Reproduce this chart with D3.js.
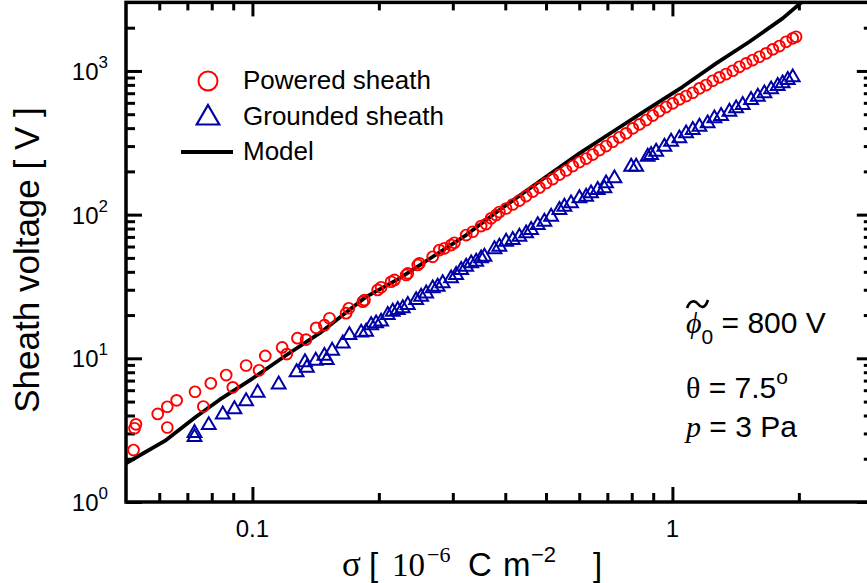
<!DOCTYPE html>
<html>
<head>
<meta charset="utf-8">
<script src="https://cdn.jsdelivr.net/npm/d3@7"></script>
<style>
  body { margin: 0; background: #fff; }
  svg { display: block; font-family: Arial, "Liberation Sans", sans-serif; }
</style>
</head>
<body>
<script>
// DATA ––––––––––––––––––––––––––––––––––––––––––––––––––––––––––––––––

  // powered sheath (red circles), sigma in 1e-6 C m^-2, voltage in V
  var poweredSigma = [0.0521, 0.0524, 0.0528, 0.0595, 0.0627, 0.0627, 0.0660, 0.0730, 0.0764, 0.0796,
    0.0866, 0.0898, 0.0966, 0.1037, 0.1073, 0.1177, 0.1207, 0.128, 0.1342, 0.1418,
    0.1484, 0.1526, 0.1671, 0.1696, 0.1831, 0.1848, 0.1987, 0.2025, 0.2139, 0.2179,
    0.2323, 0.2344, 0.2475, 0.2498, 0.2687, 0.2787, 0.2865, 0.2972, 0.3027, 0.3228,
    0.3346, 0.3504, 0.3601, 0.3701, 0.3804, 0.3873, 0.4018, 0.4167, 0.4322, 0.4484,
    0.465, 0.4824, 0.5003, 0.5188, 0.5382, 0.5582, 0.5789, 0.6006, 0.6231, 0.6459,
    0.6703, 0.6951, 0.7207, 0.7477, 0.7757, 0.8044, 0.8346, 0.8658, 0.8977, 0.9312,
    0.966, 1.0016, 1.039, 1.078, 1.118, 1.160, 1.203, 1.247, 1.294, 1.342,
    1.392, 1.444, 1.498, 1.553, 1.611, 1.672, 1.734, 1.798, 1.865, 1.934, 1.970];
  var poweredV = [2.30, 3.26, 3.47, 4.10, 3.30, 4.60, 5.10, 5.85, 4.62, 6.70,
    7.65, 6.28, 8.91, 8.25, 10.4, 11.9, 10.7, 13.8, 13.5, 16.3,
    17.0, 19.0, 20.6, 22.3, 24.8, 25.4, 29.9, 31.2, 34.1, 35.1,
    38.0, 39.0, 44.6, 45.8, 50.9, 56.7, 58.3, 61.4, 63.7, 72.1,
    76.0, 83.3, 86.0, 94.3, 99.4, 104.3, 110.3, 117.6, 125.3, 134.7,
    144.8, 154.4, 166.0, 176.9, 190.1, 202.8, 217.9, 232.3, 245.7, 262.0,
    281.6, 300.2, 321.6, 345.2, 368.0, 398.7, 425.1, 455.3, 489.3, 526.0,
    560.9, 595.1, 634.6, 669.0, 705.4, 756.8, 797.9, 854.7, 902.6, 951.5,
    1003, 1069, 1129, 1191, 1256, 1326, 1414, 1490, 1597, 1687, 1730];

  // grounded sheath (blue triangles)
  var groundedSigma = [0.0728, 0.0728, 0.0787, 0.0850, 0.0906, 0.0966, 0.1029, 0.1155, 0.1274, 0.1334,
    0.1348, 0.1415, 0.1484, 0.1503, 0.1548, 0.1641, 0.1702, 0.1815, 0.1865, 0.1917,
    0.197, 0.2025, 0.21, 0.2158, 0.2218, 0.228, 0.2344, 0.2454, 0.2522, 0.2593,
    0.2687, 0.2761, 0.2838, 0.2972, 0.3055, 0.3141, 0.3228, 0.3318, 0.341, 0.3504,
    0.3568, 0.377, 0.3873, 0.4018, 0.4167, 0.4322, 0.4484, 0.4609, 0.4779, 0.4956,
    0.5143, 0.5382, 0.5532, 0.5737, 0.6006, 0.6231, 0.6402, 0.664, 0.6887, 0.6951,
    0.7278, 0.7977, 0.8197, 0.8733, 0.8898, 0.9147, 0.9572, 0.9929, 1.039, 1.078,
    1.118, 1.160, 1.213, 1.259, 1.306, 1.367, 1.418, 1.470, 1.539, 1.597,
    1.656, 1.718, 1.781, 1.830, 1.882, 1.934];
  var groundedV = [3.02, 2.83, 3.43, 4.06, 4.42, 5.03, 5.76, 6.57, 8.00, 9.40,
    8.59, 9.61, 10.4, 9.73, 11.3, 12.7, 14.5, 15.1, 15.3, 17.0,
    17.5, 18.0, 20.0, 21.1, 21.7, 22.3, 23.5, 25.4, 26.8, 28.3,
    30.7, 31.5, 33.3, 36.0, 38.0, 41.2, 43.4, 45.8, 47.0, 49.6,
    51.0, 57.4, 59.8, 64.8, 66.6, 70.2, 74.1, 78.1, 84.6, 89.3,
    96.7, 107.6, 113.5, 119.8, 129.9, 133.2, 140.7, 148.3, 152.4, 165.1,
    178.9, 215.4, 215.4, 252.9, 259.9, 274.0, 296.9, 321.6, 339.6, 368.0,
    387.9, 408.9, 432.0, 467.9, 485.6, 520.2, 549.3, 579.0, 627.6, 661.5,
    698.5, 744.7, 785.1, 819.8, 864.4, 902.6];

  // model curve (black line)
  var modelSigma = [0.05, 0.0623, 0.0734, 0.0834, 0.1002, 0.1203, 0.1443, 0.1865, 0.2239, 0.2687,
    0.3228, 0.3873, 0.5003, 0.6006, 0.7207, 0.8658, 1.058, 1.271, 1.525, 1.830, 2.14];
  var modelV = [1.86, 2.70, 3.92, 5.13, 7.26, 10.5, 14.9, 26.8, 36.0, 50.9,
    72.1, 107.6, 183.5, 267, 377.6, 534.5, 776, 1130, 1597, 2323, 3430];

  var xTickValues = [0.1, 1];
  var xTickLabels = ["0.1", "1"];
  var yTickValues = [1, 10, 100, 1000];
  var yTickExponents = ["0", "1", "2", "3"];
  var legendLabels = ["Powered sheath", "Grounded sheath", "Model"];

// SETUP –––––––––––––––––––––––––––––––––––––––––––––––––––––––––––––––

  var W = 867, H = 583,
      red = "#ff0000",
      blue = "#0000a8",
      serif = "'Liberation Serif', 'Times New Roman', serif";

  var x = d3.scaleLog().domain([0.05, 3]).range([126, 872.8]);
  var y = d3.scaleLog().domain([1, 3000]).range([502, 2.4]);

  var svg = d3.select("body").append("svg")
        .attr("width", W)
        .attr("height", H);

  svg.append("defs").append("clipPath")
      .attr("id", "plotclip")
    .append("rect")
      .attr("x", x.range()[0])
      .attr("y", y.range()[1])
      .attr("width", x.range()[1] - x.range()[0])
      .attr("height", y.range()[0] - y.range()[1]);

// AXES ––––––––––––––––––––––––––––––––––––––––––––––––––––––––––––––––

  var minorTicks = function(lo, hi) {
    let out = [];
    for (let d = 0.01; d < hi; d *= 10) {
      for (let k = 2; k <= 9; k++) {
        let v = +(d * k).toPrecision(3);
        if (v > lo && v < hi) out.push(v);
      }
    }
    return out;
  };

  var xMinor = minorTicks(0.05, 3),
      yMinor = minorTicks(1, 3000);

  var styleAxis = function(g) {
    g.select(".domain").remove();
    g.selectAll(".tick line").attr("stroke", "#000").attr("stroke-width", 3);
  };

  var addAxis = function(axis, tx, ty) {
    svg.append("g")
      .attr("transform", "translate(" + tx + "," + ty + ")")
      .call(axis.tickFormat(""))
      .call(styleAxis);
  };

  addAxis(d3.axisBottom(x).tickValues(xTickValues).tickSize(-15), 0, y.range()[0]);
  addAxis(d3.axisBottom(x).tickValues(xMinor).tickSize(-9), 0, y.range()[0]);
  addAxis(d3.axisTop(x).tickValues(xTickValues).tickSize(-14), 0, y.range()[1]);
  addAxis(d3.axisTop(x).tickValues(xMinor).tickSize(-8), 0, y.range()[1]);
  addAxis(d3.axisLeft(y).tickValues(yTickValues).tickSize(-16), x.range()[0], 0);
  addAxis(d3.axisLeft(y).tickValues(yMinor).tickSize(-9), x.range()[0], 0);
  addAxis(d3.axisRight(y).tickValues(yTickValues).tickSize(-16), x.range()[1], 0);
  addAxis(d3.axisRight(y).tickValues(yMinor).tickSize(-9), x.range()[1], 0);

  // frame
  svg.append("rect")
    .attr("x", x.range()[0])
    .attr("y", y.range()[1])
    .attr("width", x.range()[1] - x.range()[0])
    .attr("height", y.range()[0] - y.range()[1])
    .attr("fill", "none")
    .attr("stroke", "#000")
    .attr("stroke-width", 3.5);

  // tick labels
  svg.selectAll(".xlab")
    .data(xTickValues)
    .enter().append("text")
      .attr("x", function(d) { return x(d); })
      .attr("y", 537)
      .attr("text-anchor", "middle")
      .attr("font-size", 24)
      .text(function(d, i) { return xTickLabels[i]; });

  var yl = svg.selectAll(".ylab")
    .data(yTickValues)
    .enter().append("text")
      .attr("x", 108)
      .attr("y", function(d) { return y(d) + 9; })
      .attr("text-anchor", "end")
      .attr("font-size", 24);
  yl.append("tspan").text("10");
  yl.append("tspan")
    .attr("font-size", 17)
    .attr("dy", -12)
    .text(function(d, i) { return yTickExponents[i]; });

  // axis titles
  svg.append("text")
    .attr("transform", "translate(39,260) rotate(-90)")
    .attr("text-anchor", "middle")
    .attr("font-size", 35)
    .text("Sheath voltage [ V ]");

  // x title pieces placed one by one, the original spaces them widely
  var xt = svg.append("text").attr("y", 576).attr("font-size", 33);
  xt.append("tspan").attr("x", 342).attr("font-family", serif).attr("font-size", 35).text("σ");
  xt.append("tspan").attr("x", 369).text("[");
  xt.append("tspan").attr("x", 392).attr("font-family", serif).text("10");
  xt.append("tspan").attr("x", 427).attr("font-family", serif)
    .attr("font-size", 22).attr("dy", -14).text("−6");
  xt.append("tspan").attr("x", 468).attr("dy", 14).text("C");
  xt.append("tspan").attr("x", 503).text("m");
  xt.append("tspan").attr("x", 531).attr("font-size", 22).attr("dy", -14).text("−2");
  xt.append("tspan").attr("x", 593).attr("dy", 14).text("]");

// MARKS –––––––––––––––––––––––––––––––––––––––––––––––––––––––––––––––

  var plot = svg.append("g").attr("clip-path", "url(#plotclip)");

  var line = d3.line()
    .x(function(d, i) { return x(modelSigma[i]); })
    .y(function(d) { return y(d); });

  plot.append("path")
    .datum(modelV)
    .attr("fill", "none")
    .attr("stroke", "#000")
    .attr("stroke-width", 3.8)
    .attr("stroke-linejoin", "round")
    .attr("d", line);

  plot.selectAll(".pw")
    .data(poweredV)
    .enter().append("circle")
      .attr("cx", function(d, i) { return x(poweredSigma[i]); })
      .attr("cy", function(d) { return y(d); })
      .attr("r", 5.4)
      .attr("fill", "none")
      .attr("stroke", red)
      .attr("stroke-width", 1.9);

  var tri = d3.symbol().type(d3.symbolTriangle).size(82);

  plot.selectAll(".gr")
    .data(groundedV)
    .enter().append("path")
      .attr("d", tri)
      .attr("transform", function(d, i) {
        return "translate(" + x(groundedSigma[i]) + "," + y(d) + ")";
      })
      .attr("fill", "none")
      .attr("stroke", blue)
      .attr("stroke-width", 2);

// LEGEND ––––––––––––––––––––––––––––––––––––––––––––––––––––––––––––––

  var legendY = [81, 117, 152];

  svg.append("circle")
    .attr("cx", 208).attr("cy", legendY[0]).attr("r", 9.5)
    .attr("fill", "none").attr("stroke", red).attr("stroke-width", 2);
  svg.append("path")
    .attr("d", d3.symbol().type(d3.symbolTriangle).size(220)())
    .attr("transform", "translate(208," + (legendY[1] + 1) + ")")
    .attr("fill", "none").attr("stroke", blue).attr("stroke-width", 2.2);
  svg.append("line")
    .attr("x1", 181).attr("x2", 233)
    .attr("y1", legendY[2]).attr("y2", legendY[2])
    .attr("stroke", "#000").attr("stroke-width", 4);

  svg.selectAll(".leg")
    .data(legendLabels)
    .enter().append("text")
      .attr("x", 243)
      .attr("y", function(d, i) { return legendY[i] + 8; })
      .attr("font-size", 26)
      .text(function(d) { return d; });

// ANNOTATIONS –––––––––––––––––––––––––––––––––––––––––––––––––––––––––

  // tilde over phi, drawn as a small wave
  svg.append("path")
    .attr("d", "M687,308 C690,300 695,300 698,304 S705,309 708,300")
    .attr("fill", "none")
    .attr("stroke", "#000")
    .attr("stroke-width", 2.6);

  var a1 = svg.append("text").attr("x", 686).attr("y", 333).attr("font-size", 30);
  a1.append("tspan").attr("font-family", serif).attr("font-style", "italic").text("ϕ");
  a1.append("tspan").attr("font-size", 21).attr("dy", 11).text("0");
  a1.append("tspan").attr("dy", -11).text(" = 800 V");

  var a2 = svg.append("text").attr("x", 686).attr("y", 398).attr("font-size", 30);
  a2.append("tspan").attr("font-family", serif).text("θ");
  a2.append("tspan").text(" = 7.5");
  a2.append("tspan").attr("font-size", 21).attr("dy", -14).text("o");

  var a3 = svg.append("text").attr("x", 686).attr("y", 437).attr("font-size", 30);
  a3.append("tspan").attr("font-style", "italic").attr("font-family", serif).text("p");
  a3.append("tspan").text(" = 3 Pa");
</script>
</body>
</html>
